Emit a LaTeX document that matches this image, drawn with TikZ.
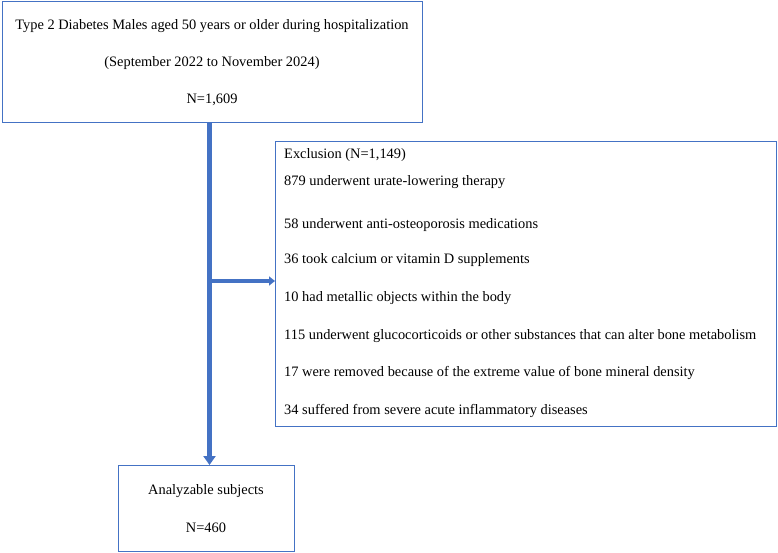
\documentclass[tikz,border=0pt]{standalone}
\usepackage{fontspec}
\setmainfont{Liberation Serif}
\usetikzlibrary{arrows.meta}
\definecolor{boxblue}{HTML}{4472C4}
\definecolor{arrowblue}{HTML}{4472C4}
\tikzset{
  box/.style={draw=boxblue, line width=1.2pt, inner sep=0pt, anchor=north west},
  txt/.style={font=\fontsize{14.4}{16}\selectfont, inner sep=0pt},
  ltxt/.style={txt, anchor=west},
  bigarrow/.style={draw=arrowblue, line width=5.5pt, -{Triangle[width=12pt,length=9pt]}},
  sidearrow/.style={draw=arrowblue, line width=3.5pt, -{Triangle[width=9pt,length=6pt]}},
}
\begin{document}
\begin{tikzpicture}[x=1pt,y=-1pt]
\useasboundingbox (0,0) rectangle (778,553);
% boxes
\node[box, minimum width=420pt, minimum height=121pt] (top) at (2,1) {};
\node[box, minimum width=501pt, minimum height=285pt] (excl) at (275,141) {};
\node[box, minimum width=176pt, minimum height=86pt] (bot) at (118,465) {};
% top box text
\node[txt] (t1) at (212,26) {Type 2 Diabetes Males aged 50 years or older during hospitalization};
\node[txt] (t2) at (212,63) {(September 2022 to November 2024)};
\node[txt] (t3) at (212,100) {N=1,609};
% exclusion text
\node[ltxt] (e0) at (284,155) {Exclusion (N=1,149)};
\node[ltxt] (e1) at (284,182) {879 underwent urate-lowering therapy};
\node[ltxt] (e2) at (284,225) {58 underwent anti-osteoporosis medications};
\node[ltxt] (e3) at (284,260) {36 took calcium or vitamin D supplements};
\node[ltxt] (e4) at (284,298) {10 had metallic objects within the body};
\node[ltxt] (e5) at (284,336) {115 underwent glucocorticoids or other substances that can alter bone metabolism};
\node[ltxt] (e6) at (284,373) {17 were removed because of the extreme value of bone mineral density};
\node[ltxt] (e7) at (284,411) {34 suffered from severe acute inflammatory diseases};
% bottom text
\node[txt] (b1) at (206,491) {Analyzable subjects};
\node[txt] (b2) at (206,528) {N=460};
% arrows
\coordinate (vx) at (209.5,0);
\coordinate (branch) at (209.5,281);
\draw[bigarrow] (top.south -| vx) -- (bot.north -| vx);
\draw[sidearrow] (branch) -- (excl.west |- branch);
\end{tikzpicture}
\end{document}
